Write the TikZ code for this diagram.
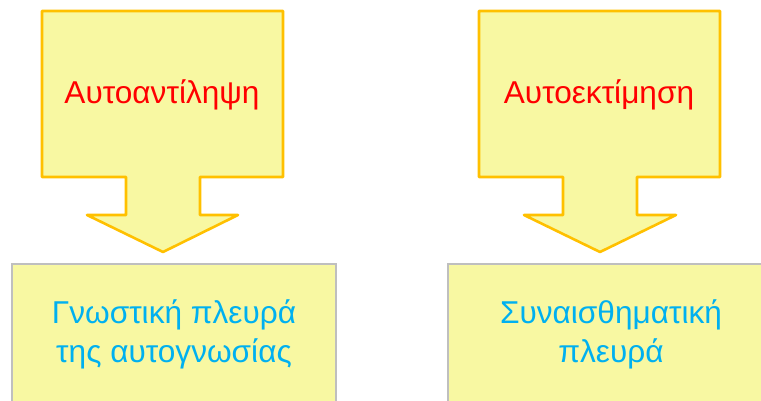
\documentclass[tikz,border=0pt]{standalone}
\usepackage{fontspec}
\setmainfont{Liberation Sans}
\definecolor{fillyellow}{HTML}{F8F8A2}
\definecolor{goldline}{HTML}{FFC000}
\definecolor{grayline}{HTML}{BFBFBF}
\definecolor{redtext}{HTML}{FF0000}
\definecolor{cyantext}{HTML}{00B0F0}
\begin{document}
\begin{tikzpicture}[x=1pt,y=-1pt]
\tikzset{
  blockarrow/.style={fill=fillyellow, draw=goldline, line width=2.6pt, line join=round},
  lowerbox/.style={fill=fillyellow, draw=grayline, line width=2.6pt},
  toptext/.style={text=redtext, font=\fontsize{31.6}{38}\selectfont, inner sep=0pt, anchor=base},
  boxtext/.style={text=cyantext, font=\fontsize{31.6}{39}\selectfont, align=center, inner sep=0pt, anchor=base}
}
\useasboundingbox (0,0) rectangle (761,401);
\clip (0,0) rectangle (761,401);
% left block arrow
\draw[blockarrow] (42,11) -- (283,11) -- (283,177) -- (200,177) -- (200,215) -- (238,215)
  -- (163,252) -- (87,215) -- (126,215) -- (126,177) -- (42,177) -- cycle;
\node[toptext] (t1) at (162,104) {Αυτοαντίληψη};
% right block arrow
\draw[blockarrow] (479,11) -- (720,11) -- (720,177) -- (637,177) -- (637,215) -- (676,215)
  -- (600,252) -- (524,215) -- (563,215) -- (563,177) -- (479,177) -- cycle;
\node[toptext] (t2) at (599,104) {Αυτοεκτίμηση};
% lower boxes
\draw[lowerbox] (12,264) rectangle (336,430);
\node[boxtext] (b1) at (174,362) {Γνωστική πλευρά\\της αυτογνωσίας};
\draw[lowerbox] (448,264) rectangle (772,430);
\node[boxtext] (b2) at (611,362) {Συναισθηματική\\πλευρά};
\end{tikzpicture}
\end{document}
